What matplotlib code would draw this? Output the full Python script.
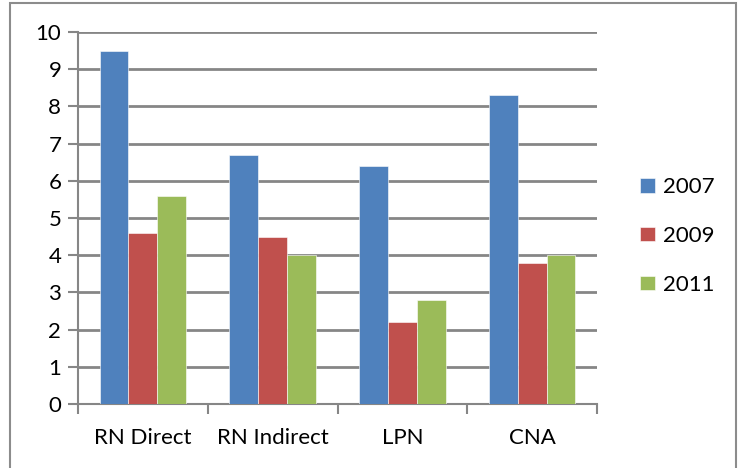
import matplotlib.pyplot as plt
import numpy as np
from matplotlib.patches import Rectangle

plt.rcParams['font.family'] = ['Lato', 'DejaVu Sans']

categories = ['RN Direct', 'RN Indirect', 'LPN', 'CNA']
years = ['2007', '2009', '2011']
v2007 = [9.5, 6.7, 6.4, 8.3]
v2009 = [4.6, 4.5, 2.2, 3.8]
v2011 = [5.6, 4.0, 2.8, 4.0]
colors = ['#4F81BD', '#C0504D', '#9BBB59']

fig = plt.figure(figsize=(7.43, 4.68), dpi=100)
ax = fig.add_axes([0.105, 0.1368, 0.6985, 0.7948])

# figure border
fig.patches.append(Rectangle((10 / 743, -0.05), 726 / 743, 1.05 - 3 / 468,
                             transform=fig.transFigure, fill=False,
                             edgecolor='#8c8c8c', linewidth=1.5))

x = np.arange(len(categories))
w = 1 / 4.5
for i, (vals, yr) in enumerate(zip([v2007, v2009, v2011], years)):
    ax.bar(x + (i - 1) * w, vals, width=w, color=colors[i], label=yr,
           edgecolor='#ffffff', linewidth=0.4, zorder=3)

ax.set_xlim(-0.5, len(categories) - 0.5)
ax.set_ylim(0, 10)
ax.set_yticks(range(0, 11))
ax.yaxis.grid(True, color='#868686', linewidth=2, zorder=0)
ax.set_xticks(np.arange(-0.5, len(categories), 1))
ax.set_xticklabels([])
ax.set_xticks(x, minor=True)
ax.set_xticklabels(categories, minor=True, fontsize=16)
ax.tick_params(axis='x', which='minor', length=0, pad=17)
ax.tick_params(axis='x', which='major', length=7, width=1.5, color='#868686')
ax.tick_params(axis='y', length=7, width=1.5, color='#868686', labelsize=16, pad=5)

for s in ['top', 'right']:
    ax.spines[s].set_visible(False)
for s in ['left', 'bottom']:
    ax.spines[s].set_color('#868686')
    ax.spines[s].set_linewidth(1.5)

ax.legend(loc='center left', bbox_to_anchor=(1.045, 0.452), frameon=False,
          fontsize=16, handlelength=0.65, handleheight=0.65, handletextpad=0.35,
          labelspacing=1.3)

fig.savefig('out.png', dpi=100)
